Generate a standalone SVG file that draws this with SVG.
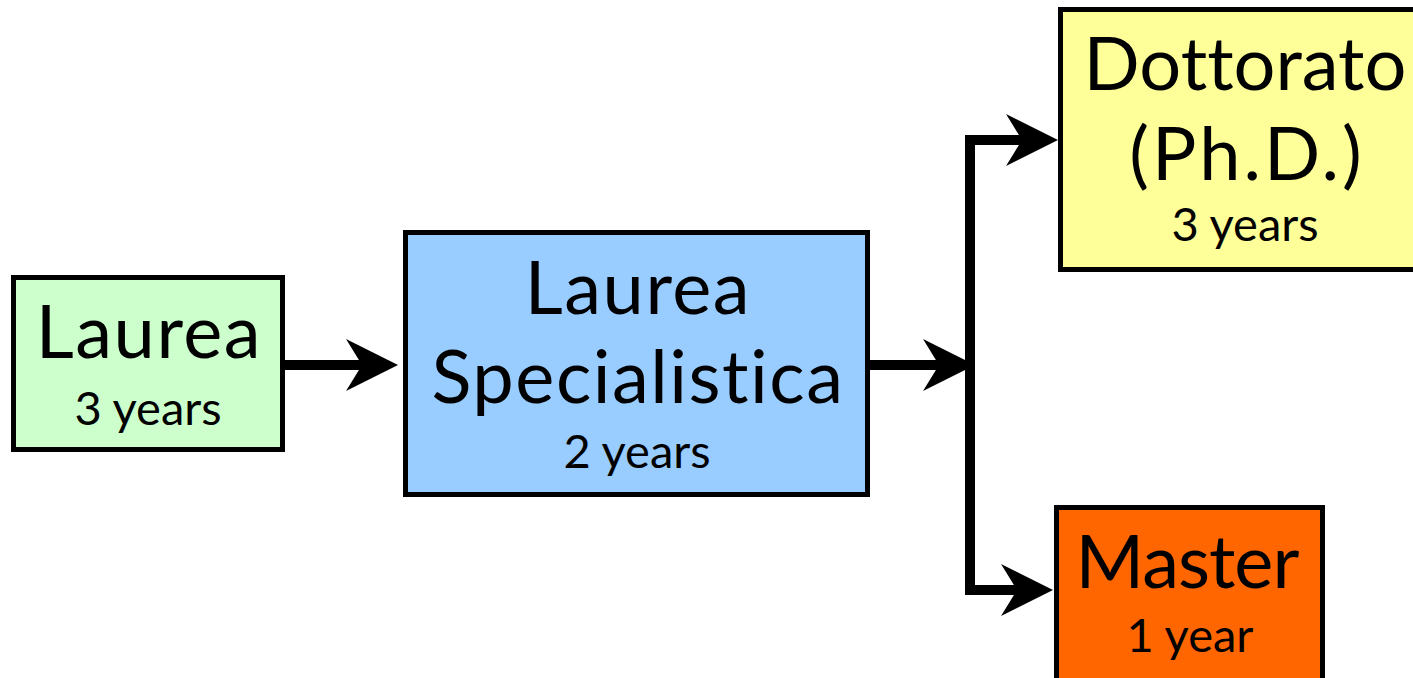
<svg xmlns="http://www.w3.org/2000/svg" width="1413" height="678" viewBox="0 0 1413 678">
<style>
.box{stroke:#000;stroke-width:5}
.big{font-family:Lato,"Open Sans","DejaVu Sans",sans-serif;font-size:74px;fill:#000;text-anchor:middle;font-variant-ligatures:none;font-feature-settings:"liga" 0,"clig" 0}
.small{font-family:Lato,"Open Sans","DejaVu Sans",sans-serif;font-size:47px;fill:#000;text-anchor:middle}
.conn{fill:none;stroke:#000;stroke-width:10;stroke-linejoin:miter}
</style>
<defs>
<marker id="ah" markerUnits="userSpaceOnUse" markerWidth="52" markerHeight="52" viewBox="-52 -26 52 52" refX="-30" refY="0" orient="auto-start-reverse">
<path d="M0,0 L-52,-26 L-36,0 L-52,26 Z" fill="#000"/>
</marker>
</defs>
<rect width="1413" height="678" fill="#fff"/>
<g id="connectors">
<path class="conn" d="M285,365 H368" marker-end="url(#ah)"/>
<path class="conn" d="M870,365 H945" marker-end="url(#ah)"/>
<path class="conn" d="M1028,140 H970 V590 H1023" marker-start="url(#ah)" marker-end="url(#ah)"/>
</g>
<g id="laurea">
<rect class="box" x="13.5" y="277.5" width="269" height="172" fill="#CCFFCC"/>
<text class="big" x="149" y="358" letter-spacing="1.5">Laurea</text>
<text class="small" x="148" y="425">3 years</text>
</g>
<g id="specialistica">
<rect class="box" x="405.5" y="232.5" width="462" height="262" fill="#99CCFF"/>
<text class="big" x="638" y="314" letter-spacing="1.5">Laurea</text>
<text class="big" x="638" y="403" letter-spacing="1.5">Specialistica</text>
<text class="small" x="637" y="468">2 years</text>
</g>
<g id="dottorato">
<rect class="box" x="1060.5" y="9.5" width="400" height="260" fill="#FFFF99"/>
<text class="big" x="1245" y="90">Dottorato</text>
<text class="big" x="1247" y="180" letter-spacing="3">(Ph.D.)</text>
<text class="small" x="1245" y="241">3 years</text>
</g>
<g id="master">
<rect class="box" x="1056.5" y="507.5" width="266" height="200" fill="#FF6600"/>
<text class="big" x="1187" y="588" letter-spacing="-1">Master</text>
<text class="small" x="1190" y="652">1 year</text>
</g>
</svg>
